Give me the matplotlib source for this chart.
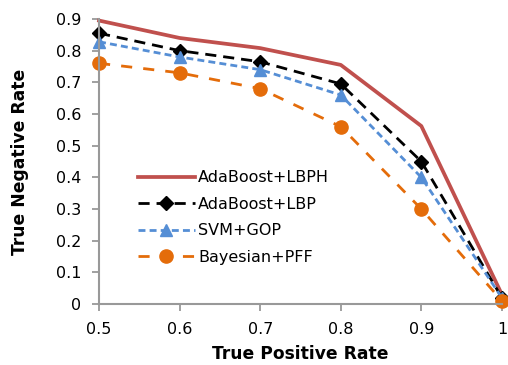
import matplotlib.pyplot as plt
import numpy as np

# true positive rate (x) and true negative rate for each method
tpr = [0.5, 0.6, 0.7, 0.8, 0.9, 1.0]
lbph = [0.895, 0.84, 0.808, 0.755, 0.562, 0.03]
lbp = [0.855, 0.80, 0.765, 0.695, 0.45, 0.02]
gop = [0.828, 0.78, 0.74, 0.66, 0.40, 0.02]
pff = [0.76, 0.73, 0.68, 0.56, 0.30, 0.01]

plt.rcParams['font.family'] = 'DejaVu Sans'

fig = plt.figure(figsize=(5.08, 3.65), dpi=100)
ax = fig.add_axes([0.195, 0.167, 0.793, 0.781])

ax.plot(tpr, lbph, '-', color='#C0504D', lw=2.7, label='AdaBoost+LBPH')
ax.plot(tpr, lbp, '--', color='black', lw=2, dashes=(4, 2.5), marker='D', ms=7,
        label='AdaBoost+LBP')
ax.plot(tpr, gop, '--', color='#558ED5', lw=2, dashes=(2.5, 1.5), marker='^', ms=9,
        label='SVM+GOP')
ax.plot(tpr, pff, '--', color='#E46C0A', lw=2, dashes=(4, 4), marker='o', ms=9.5,
        label='Bayesian+PFF')

ax.set_xlim(0.5, 1.0)
ax.set_ylim(0, 0.9)
ax.set_xticks(np.arange(0.5, 1.01, 0.1))
ax.set_xticklabels(['0.5', '0.6', '0.7', '0.8', '0.9', '1'])
ax.set_yticks(np.arange(0, 0.91, 0.1))
ax.set_yticklabels(['0', '0.1', '0.2', '0.3', '0.4', '0.5', '0.6', '0.7', '0.8', '0.9'])

for s in ['top', 'right']:
    ax.spines[s].set_visible(False)
for s in ['left', 'bottom']:
    ax.spines[s].set_color('#999999')
    ax.spines[s].set_linewidth(1.5)
ax.tick_params(colors='#999999', labelcolor='black', labelsize=11.5, length=5, width=1.3)
ax.tick_params(axis='x', pad=8)
ax.tick_params(axis='y', pad=8)

ax.set_xlabel('True Positive Rate', fontsize=12.3, fontweight='bold', labelpad=6)
ax.set_ylabel('True Negative Rate', fontsize=12.3, fontweight='bold', labelpad=19)

for c in ax.lines:
    c.set_clip_on(False)

ax.legend(loc='upper left', bbox_to_anchor=(0.06, 0.52), frameon=False,
          fontsize=11.5, handlelength=3.6, handletextpad=0.2, labelspacing=0.72)

fig.savefig('out.png', dpi=100)
